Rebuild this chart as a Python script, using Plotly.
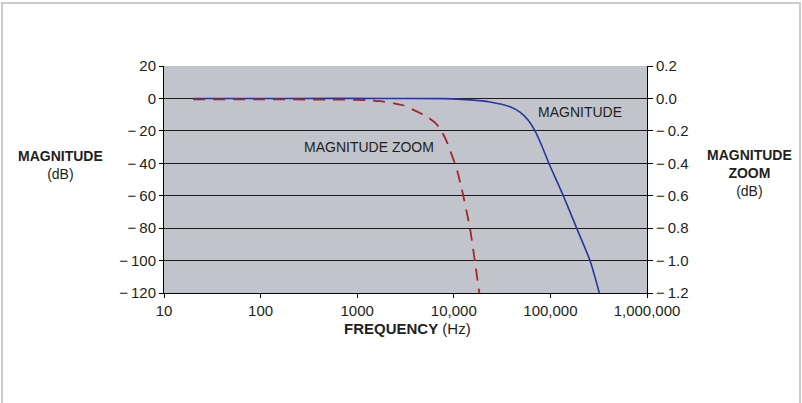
import plotly.graph_objects as go

# Data
mag_freq = [20, 200, 2000, 8000, 14700, 23700, 38200, 48400, 59000, 69300, 81900, 96400, 136000, 187000, 257000, 321000]
mag_db = [0, 0, 0, -0.1, -0.9, -2.2, -5.2, -8.5, -13.5, -20.0, -29.5, -40.0, -60.0, -80.0, -100.0, -120.0]

zoom_freq = [20, 100, 500, 1260, 1720, 2400, 3000, 4470, 5500, 6650, 7500, 8300, 9150, 10700, 12080, 14700, 16560, 18230, 18400]
zoom_db = [-0.006, -0.006, -0.007, -0.010, -0.017, -0.030, -0.042, -0.090, -0.12, -0.16, -0.205, -0.255, -0.32, -0.433, -0.557, -0.80, -1.007, -1.186, -1.20]

x_tickvals = [10, 100, 1000, 10000, 100000, 1000000]
x_ticktext = ["10", "100", "1000", "10,000", "100,000", "1,000,000"]
y1_tickvals = [20, 0, -20, -40, -60, -80, -100, -120]
y1_ticktext = ["20", "0", "\u2212\u200920", "\u2212\u200940", "\u2212\u200960", "\u2212\u200980", "\u2212\u2009100", "\u2212\u2009120"]
y2_tickvals = [0.2, 0.0, -0.2, -0.4, -0.6, -0.8, -1.0, -1.2]
y2_ticktext = ["0.2", "0.0", "\u2212\u20090.2", "\u2212\u20090.4", "\u2212\u20090.6", "\u2212\u20090.8", "\u2212\u20091.0", "\u2212\u20091.2"]

FONT = "Liberation Sans, Arial, sans-serif"
TXT = "#231f20"
TICK_SIZE = 15
TITLE_SIZE = 14
LABEL_SIZE = 14

fig = go.Figure()
fig.add_trace(go.Scatter(x=mag_freq, y=mag_db, mode="lines",
                         line=dict(color="#2a35a0", width=1.6, shape="spline", smoothing=0.6),
                         yaxis="y", showlegend=False, hoverinfo="skip"))
fig.add_trace(go.Scatter(x=zoom_freq, y=zoom_db, mode="lines",
                         line=dict(color="#a3262a", width=1.8, dash="12px,8px", shape="spline", smoothing=0.5),
                         yaxis="y2", showlegend=False, hoverinfo="skip"))

fig.update_layout(
    width=802, height=403,
    margin=dict(l=164, r=155, t=66, b=110),
    paper_bgcolor="white",
    plot_bgcolor="#c1c4ca",
    font=dict(family=FONT, size=TICK_SIZE, color=TXT),
    xaxis=dict(type="log", range=[1, 6], tickvals=x_tickvals, ticktext=x_ticktext,
               showgrid=False, zeroline=False, showline=True, linecolor="black", linewidth=1,
               ticks="outside", ticklen=4, tickcolor="black", mirror=False,
               tickfont=dict(family=FONT, size=TICK_SIZE, color=TXT)),
    yaxis=dict(range=[-120, 20], tickvals=y1_tickvals, ticktext=y1_ticktext,
               showgrid=True, gridcolor="#1a1a1a", gridwidth=1, zeroline=False,
               showline=True, linecolor="black", linewidth=1,
               ticks="outside", ticklen=4, tickcolor="black",
               tickfont=dict(family=FONT, size=TICK_SIZE, color=TXT)),
    yaxis2=dict(range=[-1.2, 0.2], tickvals=y2_tickvals, ticktext=y2_ticktext,
                overlaying="y", side="right", showgrid=False, zeroline=False,
                showline=True, linecolor="black", linewidth=1,
                ticks="outside", ticklen=5, tickcolor="black",
                tickfont=dict(family=FONT, size=TICK_SIZE, color=TXT)),
)

# Outer frame
fig.add_shape(type="rect", xref="paper", yref="paper",
              x0=(2 - 164) / 483, x1=(800 - 164) / 483,
              y0=(293 - 420) / 227, y1=(293 - 3) / 227,
              line=dict(color="#cccccc", width=2), fillcolor="rgba(0,0,0,0)", layer="below")

def ann(text, x, y, size, xanchor="center"):
    fig.add_annotation(text=text, xref="paper", yref="paper",
                       x=(x - 164) / 483, y=(293 - y) / 227,
                       showarrow=False, xanchor=xanchor, yanchor="middle", align="center",
                       font=dict(family=FONT, size=size, color=TXT))

ann("<b>MAGNITUDE</b><br>(dB)", 60, 165, TITLE_SIZE)
ann("<b>MAGNITUDE</b><br><b>ZOOM</b><br>(dB)", 749, 173, TITLE_SIZE)
ann("<b>FREQUENCY</b> (Hz)", 407, 328, 15)
ann("MAGNITUDE ZOOM", 369, 147, LABEL_SIZE)
ann("MAGNITUDE", 580, 112, LABEL_SIZE)

fig.write_html("out.html", config={"displayModeBar": False},
               post_script="document.body.style.margin='0';document.body.style.overflow='hidden';")
